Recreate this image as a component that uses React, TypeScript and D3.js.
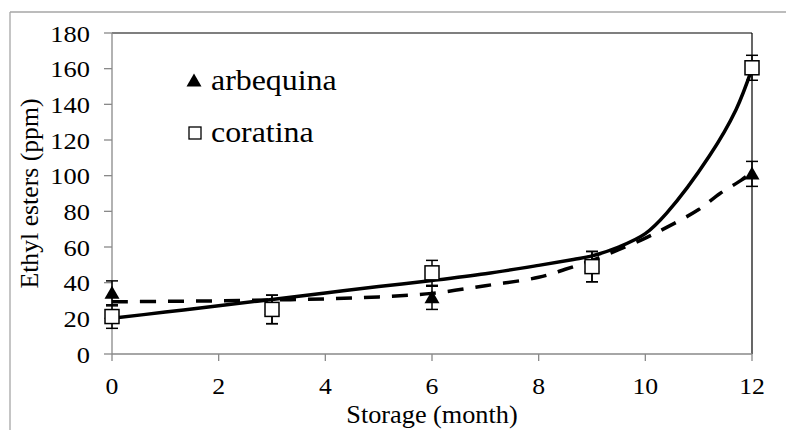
import React from "react";
import * as d3 from "d3";

const months = [0, 3, 6, 9, 12];
const arbequina = [34, 25, 31.5, 49, 101];
const arbequinaErr = [7, 8, 6.5, 8.5, 7];
const coratina = [21, 25, 45.5, 49, 160.5];
const coratinaErr = [6.6, 8, 7, 8.5, 7];

const arbTrendX = [0, 1, 2, 3, 4, 5, 6, 7, 8, 8.5, 9, 9.5, 10, 10.4, 11, 11.4, 11.8, 12];
const arbTrendY = [29.3, 29.5, 29.8, 30.3, 30.9, 32, 34, 38.3, 43, 47.5, 52.5, 58.5, 65, 71, 81, 90, 97.5, 102];
const corTrendX = [0, 1, 2, 3, 4, 5, 6, 7, 8, 8.65, 9, 9.5, 10, 10.4, 11.2, 11.7, 12];
const corTrendY = [20, 23.5, 27, 30.6, 34.2, 37.8, 41.2, 45, 49.7, 53, 55, 60, 67.5, 79, 111, 137, 160];

const xTicks = [0, 2, 4, 6, 8, 10, 12];
const yTicks = [0, 20, 40, 60, 80, 100, 120, 140, 160, 180];

const legendLabels = ["arbequina", "coratina"];
const xTitle = "Storage (month)";
const yTitle = "Ethyl esters (ppm)";

const GREY = "#898989";
const CSS = `.serif-text { font-family: "Liberation Serif", "Times New Roman", Tinos, serif !important; }`;

export default function App() {
  const x = d3.scaleLinear().domain([0, 12]).range([112, 752]);
  const y = d3.scaleLinear().domain([0, 180]).range([354, 33]);

  const line = d3
    .line<[number, number]>()
    .x((d) => x(d[0]))
    .y((d) => y(d[1]))
    .curve(d3.curveCatmullRom.alpha(0.5));

  const arbPath = line(arbTrendX.map((v, i) => [v, arbTrendY[i]]) as [number, number][]) || "";
  const corPath = line(corTrendX.map((v, i) => [v, corTrendY[i]]) as [number, number][]) || "";

  const tri = (cx: number, cy: number) =>
    `M${cx},${cy - 7.5}L${cx + 7.5},${cy + 5.5}L${cx - 7.5},${cy + 5.5}Z`;

  const errBar = (xv: number, v: number, e: number, key: string) => {
    const px = x(xv);
    const t = y(v + e);
    const b = y(v - e);
    return (
      <g key={key} stroke="#000" strokeWidth={1.5} fill="none">
        <line x1={px} x2={px} y1={t} y2={b} />
        <line x1={px - 6} x2={px + 6} y1={t} y2={t} />
        <line x1={px - 6} x2={px + 6} y1={b} y2={b} />
      </g>
    );
  };

  return (
    <div style={{ position: "absolute", left: 0, top: 0, width: 786, height: 430, fontFamily: "Liberation Serif" }}>
      <style>{CSS}</style>
      <svg width={786} height={430} style={{ display: "block", background: "#fff" }}>
        <rect x={0} y={0} width={786} height={430} fill="#fff" />
        <line x1={10} x2={10} y1={12} y2={430} stroke="#a6a6a6" strokeWidth={1.3} />
        <line x1={10} x2={786} y1={12} y2={12} stroke="#a6a6a6" strokeWidth={1.3} />

        <line x1={x(0)} x2={x(12)} y1={y(180)} y2={y(180)} stroke="#000" strokeWidth={1.2} />
        <line x1={x(12)} x2={x(12)} y1={y(180)} y2={y(0)} stroke="#000" strokeWidth={1.2} />

        <line x1={x(0)} x2={x(0)} y1={y(180)} y2={y(0)} stroke={GREY} strokeWidth={1.3} />
        <line x1={x(0)} x2={x(12)} y1={y(0)} y2={y(0)} stroke={GREY} strokeWidth={1.3} />
        {yTicks.map((t) => (
          <g key={"yt" + t}>
            <line x1={x(0) - 8} x2={x(0)} y1={y(t)} y2={y(t)} stroke={GREY} strokeWidth={1.3} />
            <text
              className="serif-text"
              transform={`translate(90,${y(t) + 8.5}) scale(1.15,1)`}
              textAnchor="end"
              fontSize={23}
              fill="#000"
            >
              {String(t)}
            </text>
          </g>
        ))}
        {xTicks.map((t) => (
          <g key={"xt" + t}>
            <line x1={x(t)} x2={x(t)} y1={y(0)} y2={y(0) + 7} stroke={GREY} strokeWidth={1.3} />
            <text
              className="serif-text"
              transform={`translate(${x(t)},394) scale(1.12,1)`}
              textAnchor="middle"
              fontSize={23}
              fill="#000"
            >
              {String(t)}
            </text>
          </g>
        ))}

        <text
          className="serif-text"
          transform={`translate(${(x(0) + x(12)) / 2},423) scale(1.05,1)`}
          textAnchor="middle"
          fontSize={25}
          fill="#000"
        >
          {xTitle}
        </text>
        <text
          className="serif-text"
          transform={`translate(38,${(y(0) + y(180)) / 2}) rotate(-90) scale(1.03,1)`}
          textAnchor="middle"
          fontSize={25}
          fill="#000"
        >
          {yTitle}
        </text>

        <path d={arbPath} fill="none" stroke="#000" strokeWidth={3.5} strokeDasharray="16,12" />
        <path d={corPath} fill="none" stroke="#000" strokeWidth={3.5} />

        {months.map((m, i) => errBar(m, arbequina[i], arbequinaErr[i], "ae" + i))}
        {months.map((m, i) => (
          <path key={"am" + i} d={tri(x(m), y(arbequina[i]))} fill="#000" />
        ))}

        {months.map((m, i) => errBar(m, coratina[i], coratinaErr[i], "ce" + i))}
        {months.map((m, i) => (
          <rect
            key={"cm" + i}
            x={x(m) - 7}
            y={y(coratina[i]) - 7}
            width={14}
            height={14}
            fill="#fff"
            stroke="#000"
            strokeWidth={1.5}
          />
        ))}

        <path d={tri(194, 81)} fill="#000" />
        <text className="serif-text" transform="translate(211,90) scale(1.1,1)" fontSize={29} fill="#000">
          {legendLabels[0]}
        </text>
        <rect x={189} y={127} width={12} height={12} fill="#fff" stroke="#000" strokeWidth={1.3} />
        <text className="serif-text" transform="translate(211,141.5) scale(1.1,1)" fontSize={29} fill="#000">
          {legendLabels[1]}
        </text>
      </svg>
    </div>
  );
}
